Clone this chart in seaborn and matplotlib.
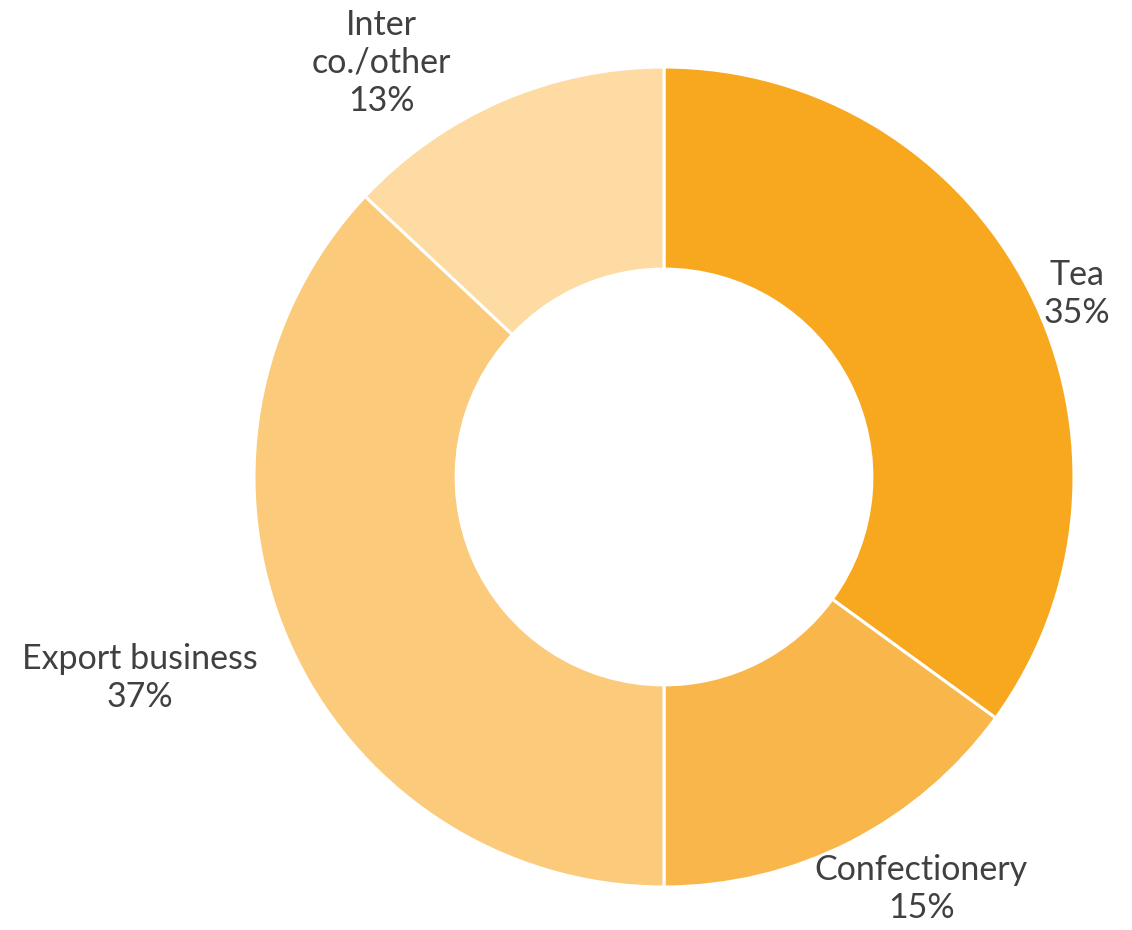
import matplotlib
matplotlib.use("Agg")
import matplotlib.pyplot as plt
import seaborn as sns

# Revenue split by business segment
segments = ["Tea", "Confectionery", "Export business", "Inter\nco./other"]
shares = [35, 15, 37, 13]
colors = ["#F8A81E", "#F9B74B", "#FBCA7A", "#FDDBA3"]

# label anchor points, in units of the outer radius
label_xy = [(1.007, 0.446), (0.627, -1.005), (-1.278, -0.490), (-0.690, 1.010)]

sns.set_theme(style="white")
plt.rcParams["font.family"] = ["Lato", "DejaVu Sans"]

fig = plt.figure(figsize=(11.32, 9.30), dpi=100)
ax = fig.add_axes([254 / 1132, 43 / 930, 820 / 1132, 820 / 930])

wedges, _ = ax.pie(
    shares,
    colors=colors,
    startangle=90,
    counterclock=False,
    radius=1.0,
    wedgeprops=dict(width=0.493, edgecolor="white", linewidth=2.2),
)

for name, val, (x, y) in zip(segments, shares, label_xy):
    ax.text(x, y, f"{name}\n{val}%", ha="center", va="center",
            fontsize=24.5, color="#404040", linespacing=1.22)

ax.set_xlim(-1, 1)
ax.set_ylim(-1, 1)
ax.set_aspect("equal")
ax.axis("off")

fig.savefig("out.png", dpi=100)
